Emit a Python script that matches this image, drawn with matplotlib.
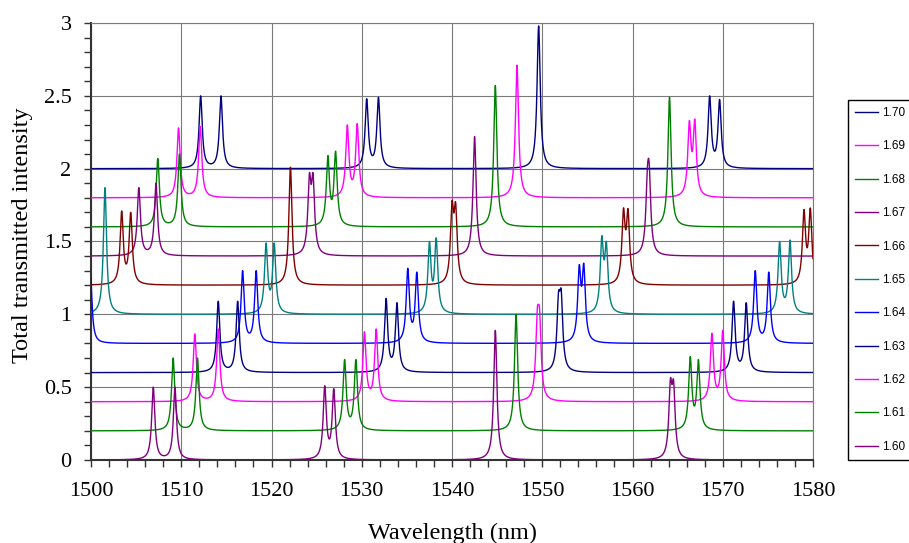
import numpy as np
import matplotlib

matplotlib.use("Agg")
import matplotlib.pyplot as plt
from matplotlib.ticker import MultipleLocator, FuncFormatter

# series (legend order, top to bottom); each one is shifted up by its offset
labels = ["1.70", "1.69", "1.68", "1.67", "1.66", "1.65", "1.64", "1.63", "1.62", "1.61", "1.60"]
offsets = [2.0, 1.8, 1.6, 1.4, 1.2, 1.0, 0.8, 0.6, 0.4, 0.2, 0.0]
colors = ["#000080", "#ff00ff", "#008000", "#800080", "#800000", "#008080",
          "#0000ff", "#000080", "#ff00ff", "#008000", "#800080"]

# resonance positions (nm) and peak tops above each baseline
centers_170 = [1512.15, 1514.4, 1530.55, 1531.85, 1549.6, 1568.55, 1569.65]
heights_170 = [0.50, 0.50, 0.48, 0.49, 0.98, 0.50, 0.475]
centers_169 = [1509.7, 1512.1, 1528.4, 1529.5, 1547.2, 1566.3, 1566.9]
heights_169 = [0.48, 0.49, 0.50, 0.51, 0.91, 0.53, 0.54]
centers_168 = [1507.4, 1509.8, 1526.25, 1527.1, 1544.8, 1564.1]
heights_168 = [0.47, 0.50, 0.49, 0.52, 0.97, 0.89]
centers_167 = [1505.3, 1507.2, 1524.2, 1524.6, 1542.5, 1561.65, 1561.85]
heights_167 = [0.47, 0.50, 0.57, 0.57, 0.82, 0.61, 0.64]
centers_166 = [1503.4, 1504.4, 1522.1, 1540.0, 1540.4, 1559.0, 1559.5, 1579.0, 1579.7]
heights_166 = [0.51, 0.50, 0.81, 0.58, 0.57, 0.53, 0.525, 0.52, 0.53]
centers_165 = [1501.55, 1519.4, 1520.3, 1537.5, 1538.25, 1556.6, 1557.1, 1576.3, 1577.45]
heights_165 = [0.87, 0.49, 0.49, 0.50, 0.525, 0.54, 0.50, 0.50, 0.51]
centers_164 = [1499.93, 1516.8, 1518.3, 1535.1, 1536.1, 1554.1, 1554.6, 1573.6, 1575.1]
heights_164 = [0.50, 0.50, 0.50, 0.516, 0.49, 0.54, 0.55, 0.50, 0.49]
centers_163 = [1514.1, 1516.25, 1532.7, 1533.9, 1551.8, 1552.1, 1571.2, 1572.6]
heights_163 = [0.49, 0.49, 0.51, 0.48, 0.555, 0.57, 0.49, 0.48]
centers_162 = [1511.5, 1514.1, 1530.3, 1531.6, 1549.45, 1549.7, 1568.8, 1570.0]
heights_162 = [0.465, 0.50, 0.48, 0.50, 0.64, 0.64, 0.47, 0.49]
centers_161 = [1509.1, 1511.8, 1528.1, 1529.35, 1547.1, 1566.4, 1567.3]
heights_161 = [0.50, 0.50, 0.49, 0.49, 0.80, 0.51, 0.49]
centers_160 = [1506.9, 1509.3, 1525.9, 1526.9, 1544.8, 1564.2, 1564.55]
heights_160 = [0.50, 0.50, 0.51, 0.49, 0.89, 0.56, 0.55]

centers = [centers_170, centers_169, centers_168, centers_167, centers_166, centers_165,
           centers_164, centers_163, centers_162, centers_161, centers_160]
heights = [heights_170, heights_169, heights_168, heights_167, heights_166, heights_165,
           heights_164, heights_163, heights_162, heights_161, heights_160]

GAMMA = 0.21  # half width of each resonance, nm
wl = np.linspace(1500, 1580, 16001)


def lorentz(x, x0):
    return 1.0 / (1.0 + ((x - x0) / GAMMA) ** 2)


def spectrum(cs, hs):
    cs = np.asarray(cs)
    hs = np.asarray(hs)
    # pick amplitudes so the summed curve hits the read-off tops
    amps = np.linalg.solve(lorentz(cs[:, None], cs[None, :]), hs)
    return (amps[:, None] * lorentz(wl[None, :], cs[:, None])).sum(axis=0)


plt.rcParams["font.family"] = ["Liberation Serif", "DejaVu Serif"]

fig = plt.figure(figsize=(9.09, 5.43), dpi=100)
ax = fig.add_axes([91 / 909, 1 - 460 / 543, (813 - 91) / 909, (460 - 23) / 543])

for i, (lab, off, col, cs, hs) in enumerate(zip(labels, offsets, colors, centers, heights)):
    ax.plot(wl, off + spectrum(cs, hs), color=col, lw=1.0, label=lab, zorder=2 + i)

ax.set_xlim(1500, 1580)
ax.set_ylim(0, 3)
ax.xaxis.set_major_locator(MultipleLocator(10))
ax.xaxis.set_minor_locator(MultipleLocator(2))
ax.yaxis.set_major_locator(MultipleLocator(0.5))
ax.yaxis.set_minor_locator(MultipleLocator(0.1))
ax.yaxis.set_major_formatter(FuncFormatter(lambda v, p: "%g" % v))
ax.grid(which="major", color="#7a7a7a", lw=0.8)
ax.set_axisbelow(True)
ax.tick_params(which="both", direction="out", length=5, width=1.0, color="#333333",
               labelsize=16, top=False, right=False)
ax.tick_params(axis="x", pad=11)
ax.tick_params(axis="y", pad=9)
for side in ["left", "bottom"]:
    ax.spines[side].set_color("#333333")
    ax.spines[side].set_linewidth(1.5)
for side in ["top", "right"]:
    ax.spines[side].set_color("#7a7a7a")
    ax.spines[side].set_linewidth(0.8)

fig.text(23 / 909, 1 - 235 / 543, "Total transmitted intensity", rotation=90,
         ha="center", va="center", fontsize=17.5)
fig.text(452 / 909, 1 - 533 / 543, "Wavelength (nm)", ha="center", va="center",
         fontsize=17.5)

handles, labs = ax.get_legend_handles_labels()
leg = fig.legend(handles, labs, loc="upper left", bbox_to_anchor=(848 / 909, 1 - 100 / 543),
                 frameon=True, fancybox=False, edgecolor="black", framealpha=1,
                 prop={"family": ["Liberation Sans", "DejaVu Sans"], "size": 8.5},
                 labelspacing=1.81, handlelength=1.95, handletextpad=0.34,
                 borderpad=0.6, borderaxespad=0)
leg.get_frame().set_linewidth(1.0)

fig.savefig("out.png", dpi=100)
